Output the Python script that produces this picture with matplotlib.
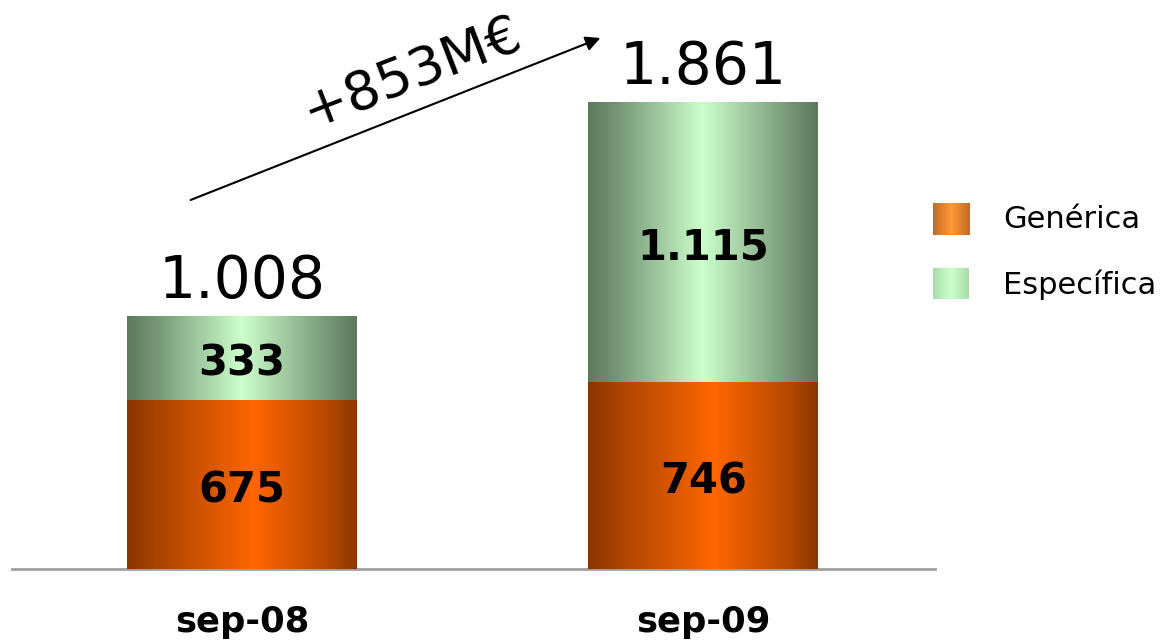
import numpy as np
import matplotlib
matplotlib.use("Agg")
import matplotlib.pyplot as plt
from matplotlib.colors import LinearSegmentedColormap

categories = ["sep-08", "sep-09"]
generica = [675, 746]
especifica = [333, 1115]
totals = ["1.008", "1.861"]
gen_labels = ["675", "746"]
esp_labels = ["333", "1.115"]
series_names = ["Genérica", "Específica"]
growth_label = "+853M€"

plt.rcParams['font.family'] = ['DejaVu Sans']

W, H = 1161, 640
fig = plt.figure(figsize=(W / 100, H / 100), dpi=100)
ax = fig.add_axes([12 / W, (H - 569) / H, (935 - 12) / W, 569 / H])
ax.axis('off')

orange_cmap = LinearSegmentedColormap.from_list(
    "org", [(0, "#8a3400"), (0.12, "#a84300"), (0.55, "#ff6600"), (0.88, "#b54800"), (1, "#8b3700")])
green_cmap = LinearSegmentedColormap.from_list(
    "grn", [(0, "#5e7a5e"), (0.15, "#7a9c7a"), (0.5, "#ccffcc"), (0.85, "#7c9e7c"), (1, "#5e785e")])
leg_orange = LinearSegmentedColormap.from_list(
    "lo", [(0, "#c06a28"), (0.5, "#ff9933"), (1, "#c06a28")])
leg_green = LinearSegmentedColormap.from_list(
    "lg", [(0, "#a8dca8"), (0.5, "#ccffcc"), (1, "#a8dca8")])

grad = np.linspace(0, 1, 256).reshape(1, -1)
x = np.arange(len(categories))
width = 0.498

def fill_gradient(bars, cmap):
    for b in bars:
        bx, by = b.get_x(), b.get_y()
        bw, bh = b.get_width(), b.get_height()
        ax.imshow(grad, cmap=cmap, aspect='auto', extent=(bx, bx + bw, by, by + bh),
                  interpolation='bicubic', zorder=2)
        b.set_visible(False)

b1 = ax.bar(x, generica, width=width, color="#ff6600")
b2 = ax.bar(x, especifica, width=width, bottom=generica, color="#ccffcc")
fill_gradient(b1, orange_cmap)
fill_gradient(b2, green_cmap)
ax.set_xlim(-0.498, 1.502)
ax.set_ylim(0, 569 / 0.251)

for i in range(len(categories)):
    ax.text(x[i], generica[i] / 2 - 26, gen_labels[i], ha='center', va='center',
            fontsize=30, fontweight='bold', zorder=3)
    ax.text(x[i], generica[i] + especifica[i] / 2 - 24, esp_labels[i], ha='center', va='center',
            fontsize=30, fontweight='bold', zorder=3)
    ax.text(x[i], generica[i] + especifica[i] + 25, totals[i], ha='center', va='bottom',
            fontsize=42, zorder=3)
    ax.text(x[i], -212, categories[i], ha='center', va='center', fontsize=25.5,
            fontweight='bold', clip_on=False)

# baseline
ax.plot([0, 1], [0, 0], transform=ax.transAxes, color="#a0a0a0", lw=2, clip_on=False, zorder=1)

# growth arrow
ax.annotate("", xy=(603 / W, 1 - 37 / H), xytext=(188 / W, 1 - 201 / H),
            xycoords='figure fraction', textcoords='figure fraction',
            arrowprops=dict(arrowstyle='-|>', color='black', lw=1.5, mutation_scale=22))
fig.text(412 / W, 1 - 73 / H, growth_label, fontsize=39, rotation=21,
         ha='center', va='center', rotation_mode='anchor')

# legend
lax = fig.add_axes([0, 0, 1, 1])
lax.axis('off')
lax.imshow(grad, cmap=leg_orange, aspect='auto', extent=(933, 970, 235, 203))
lax.imshow(grad, cmap=leg_green, aspect='auto', extent=(933, 969, 299, 268))
lax.set_xlim(0, W)
lax.set_ylim(H, 0)
lax.text(1003, 220, series_names[0], fontsize=22, va='center', ha='left')
lax.text(1003, 285, series_names[1], fontsize=22, va='center', ha='left')

fig.savefig("out.png", dpi=100)
